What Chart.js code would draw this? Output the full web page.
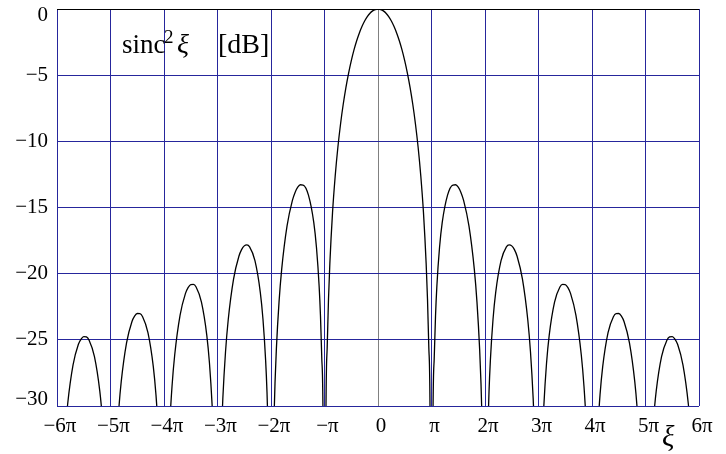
<!DOCTYPE html>
<html>
<head>
<meta charset="utf-8">
<script src="https://cdn.jsdelivr.net/npm/chart.js@4"></script>
<style>
  body { margin: 0; background: #fff; }
  #wrap { width: 726px; height: 454px; }
</style>
</head>
<body>
<div id="wrap"><canvas id="sinc" width="726" height="454"></canvas></div>
<script>
// xi is the argument in units of pi; sincDb is sinc^2 in dB read at those points.
// zeros of the function are -inf, stored as -80 (far below the -30 floor).
const xi = [
  -6, -5.975, -5.95, -5.925, -5.9, -5.85, -5.8, -5.7, -5.6, -5.55, -5.5, -5.45, -5.4, -5.3, -5.2, -5.15, -5.1, -5.075, -5.05, -5.025,
  -5, -4.975, -4.95, -4.925, -4.9, -4.85, -4.8, -4.7, -4.6, -4.55, -4.5, -4.45, -4.4, -4.3, -4.2, -4.15, -4.1, -4.075, -4.05, -4.025,
  -4, -3.975, -3.95, -3.925, -3.9, -3.85, -3.8, -3.7, -3.6, -3.55, -3.5, -3.45, -3.4, -3.3, -3.2, -3.15, -3.1, -3.075, -3.05, -3.025,
  -3, -2.975, -2.95, -2.925, -2.9, -2.85, -2.8, -2.7, -2.6, -2.55, -2.5, -2.45, -2.4, -2.3, -2.2, -2.15, -2.1, -2.075, -2.05, -2.025,
  -2, -1.975, -1.95, -1.925, -1.9, -1.85, -1.8, -1.7, -1.6, -1.55, -1.5, -1.45, -1.4, -1.3, -1.2, -1.15, -1.1, -1.075, -1.05, -1.025,
  -1, -0.975, -0.95, -0.925, -0.9, -0.85, -0.8, -0.75, -0.7, -0.65, -0.6, -0.55, -0.5, -0.45, -0.4, -0.35, -0.3, -0.25, -0.2, -0.15, -0.1, -0.05,
  0,
  0.05, 0.1, 0.15, 0.2, 0.25, 0.3, 0.35, 0.4, 0.45, 0.5, 0.55, 0.6, 0.65, 0.7, 0.75, 0.8, 0.85, 0.9, 0.925, 0.95, 0.975, 1,
  1.025, 1.05, 1.075, 1.1, 1.15, 1.2, 1.3, 1.4, 1.45, 1.5, 1.55, 1.6, 1.7, 1.8, 1.85, 1.9, 1.925, 1.95, 1.975, 2,
  2.025, 2.05, 2.075, 2.1, 2.15, 2.2, 2.3, 2.4, 2.45, 2.5, 2.55, 2.6, 2.7, 2.8, 2.85, 2.9, 2.925, 2.95, 2.975, 3,
  3.025, 3.05, 3.075, 3.1, 3.15, 3.2, 3.3, 3.4, 3.45, 3.5, 3.55, 3.6, 3.7, 3.8, 3.85, 3.9, 3.925, 3.95, 3.975, 4,
  4.025, 4.05, 4.075, 4.1, 4.15, 4.2, 4.3, 4.4, 4.45, 4.5, 4.55, 4.6, 4.7, 4.8, 4.85, 4.9, 4.925, 4.95, 4.975, 5,
  5.025, 5.05, 5.075, 5.1, 5.15, 5.2, 5.3, 5.4, 5.45, 5.5, 5.55, 5.6, 5.7, 5.8, 5.85, 5.9, 5.925, 5.95, 5.975, 6
];

const sincDb = [
  -80, -47.58, -41.55, -38.03, -35.56, -32.15, -29.83, -26.90, -25.34, -24.94, -24.75, -24.78, -25.03, -26.27, -28.88, -31.04, -34.29, -36.69, -40.12, -46.07,
  -80, -45.99, -39.95, -36.43, -33.95, -30.52, -28.18, -25.23, -23.63, -23.21, -23.01, -23.02, -23.25, -24.45, -27.02, -29.16, -32.40, -34.78, -38.21, -44.15,
  -80, -44.04, -37.99, -34.46, -31.96, -28.51, -26.15, -23.15, -21.51, -21.06, -20.82, -20.81, -21.01, -22.15, -24.66, -26.77, -29.97, -32.34, -35.74, -41.66,
  -80, -41.52, -35.45, -31.90, -29.39, -25.90, -23.50, -20.41, -18.68, -18.18, -17.90, -17.83, -17.98, -19.02, -21.41, -23.45, -26.59, -28.92, -32.29, -38.18,
  -80, -37.96, -31.86, -28.27, -25.72, -22.15, -19.66, -16.39, -14.46, -13.86, -13.46, -13.28, -13.30, -14.06, -16.14, -18.02, -20.97, -23.21, -26.48, -32.27,
  -80, -31.83, -25.61, -21.90, -19.23, -15.39, -12.62, -10.45, -8.69, -7.20, -5.94, -4.86, -3.92, -3.11, -2.42, -1.83, -1.33, -0.91, -0.58, -0.32, -0.14, -0.04,
  0,
  -0.04, -0.14, -0.32, -0.58, -0.91, -1.33, -1.83, -2.42, -3.11, -3.92, -4.86, -5.94, -7.20, -8.69, -10.45, -12.62, -15.39, -19.23, -21.90, -25.61, -31.83, -80,
  -32.27, -26.48, -23.21, -20.97, -18.02, -16.14, -14.06, -13.30, -13.28, -13.46, -13.86, -14.46, -16.39, -19.66, -22.15, -25.72, -28.27, -31.86, -37.96, -80,
  -38.18, -32.29, -28.92, -26.59, -23.45, -21.41, -19.02, -17.98, -17.83, -17.90, -18.18, -18.68, -20.41, -23.50, -25.90, -29.39, -31.90, -35.45, -41.52, -80,
  -41.66, -35.74, -32.34, -29.97, -26.77, -24.66, -22.15, -21.01, -20.81, -20.82, -21.06, -21.51, -23.15, -26.15, -28.51, -31.96, -34.46, -37.99, -44.04, -80,
  -44.15, -38.21, -34.78, -32.40, -29.16, -27.02, -24.45, -23.25, -23.02, -23.01, -23.21, -23.63, -25.23, -28.18, -30.52, -33.95, -36.43, -39.95, -45.99, -80,
  -46.07, -40.12, -36.69, -34.29, -31.04, -28.88, -26.27, -25.03, -24.78, -24.75, -24.94, -25.34, -26.90, -29.83, -32.15, -35.56, -38.03, -41.55, -47.58, -80
];

const xTicks = [-6, -5, -4, -3, -2, -1, 0, 1, 2, 3, 4, 5, 6];
const xTickLabels = ['−6π', '−5π', '−4π', '−3π', '−2π', '−π', '0', 'π', '2π', '3π', '4π', '5π', '6π'];
const yTicks = [-30, -25, -20, -15, -10, -5, 0];
const yTickLabels = ['−30', '−25', '−20', '−15', '−10', '−5', '0'];

const SERIF = '"Liberation Serif", "DejaVu Serif", serif';
const NAVY = '#26269c';

// curve label inside the plot and the xi axis name
const labelsPlugin = {
  id: 'texts',
  afterDraw(chart) {
    const ctx = chart.ctx;
    ctx.save();
    ctx.fillStyle = '#000';
    ctx.textBaseline = 'alphabetic';
    ctx.font = '27px ' + SERIF;
    ctx.fillText('sinc', 122, 53);
    ctx.font = '19px ' + SERIF;
    ctx.fillText('2', 164, 43);
    ctx.font = 'italic 28px ' + SERIF;
    ctx.fillText('ξ', 177, 53);
    ctx.font = '28px ' + SERIF;
    ctx.fillText('[dB]', 218, 53);
    ctx.font = 'italic 29px ' + SERIF;
    ctx.fillText('ξ', 662, 446);
    ctx.restore();
  }
};

new Chart(document.getElementById('sinc').getContext('2d'), {
  type: 'line',
  data: {
    datasets: [{
      data: xi.map((x, i) => ({ x: x, y: sincDb[i] })),
      borderColor: '#000',
      borderWidth: 1.3,
      pointRadius: 0,
      fill: false,
      cubicInterpolationMode: 'monotone'
    }]
  },
  options: {
    responsive: false,
    animation: false,
    layout: { padding: { top: 9, right: 27, left: 0, bottom: 0 } },
    plugins: {
      legend: { display: false },
      tooltip: { enabled: false },
      title: { display: false }
    },
    scales: {
      x: {
        type: 'linear',
        min: -6,
        max: 6,
        afterBuildTicks: scale => { scale.ticks = xTicks.map(v => ({ value: v })); },
        afterFit: scale => { scale.height = 48; },
        border: { display: false },
        grid: {
          drawTicks: false,
          lineWidth: 1,
          color: c => (c.tick && c.tick.value === 0 ? '#808080' : NAVY)
        },
        ticks: {
          autoSkip: false,
          maxRotation: 0,
          padding: 8,
          labelOffset: 3,
          color: '#000',
          font: { family: SERIF, size: 21 },
          callback: (value) => xTickLabels[xTicks.indexOf(value)]
        }
      },
      y: {
        min: -30,
        max: 0,
        afterBuildTicks: scale => { scale.ticks = yTicks.map(v => ({ value: v })); },
        afterFit: scale => {
          scale.width = 57;
          scale.paddingTop = 0;
          scale.paddingBottom = 0;
        },
        border: { display: false },
        grid: {
          drawTicks: false,
          lineWidth: 1,
          color: c => (c.tick && c.tick.value === 0 ? '#000' : NAVY)
        },
        ticks: {
          padding: 9,
          color: '#000',
          font: { family: SERIF, size: 21, lineHeight: 0.62 },
          // the end labels sit inside the frame, like the original
          callback: value => {
            const label = yTickLabels[yTicks.indexOf(value)];
            if (value === 0) return ['', label];
            if (value === -30) return [label, ''];
            return label;
          }
        }
      }
    }
  },
  plugins: [labelsPlugin]
});
</script>
</body>
</html>
